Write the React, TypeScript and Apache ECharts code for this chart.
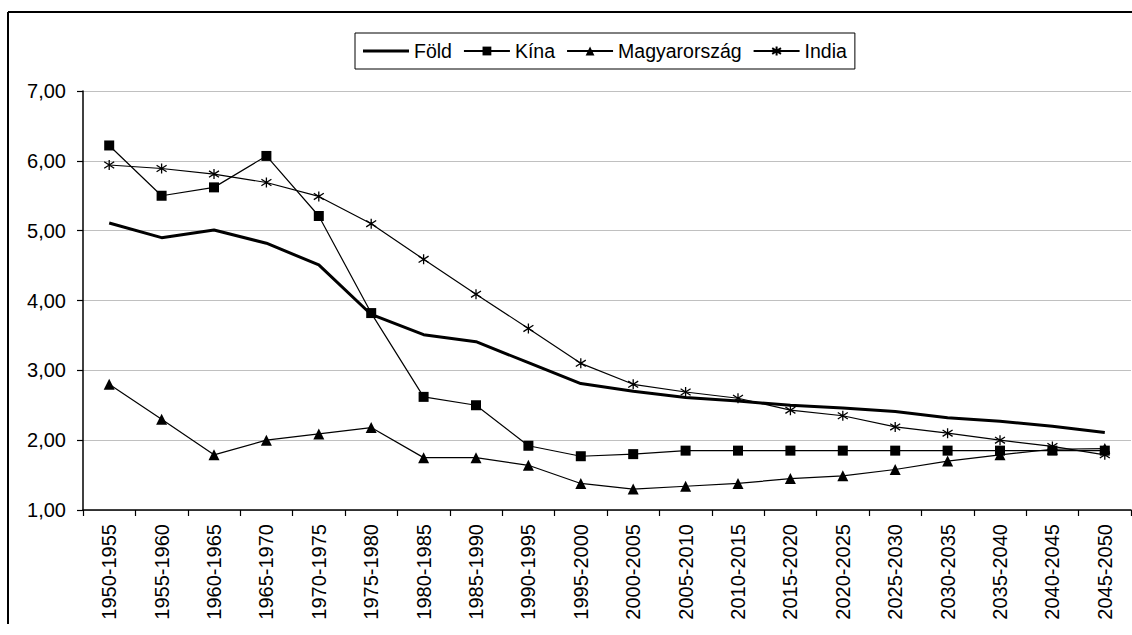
import React, { useEffect, useRef } from "react";
import * as echarts from "echarts";

const categories = [
  "1950-1955", "1955-1960", "1960-1965", "1965-1970", "1970-1975",
  "1975-1980", "1980-1985", "1985-1990", "1990-1995", "1995-2000",
  "2000-2005", "2005-2010", "2010-2015", "2015-2020", "2020-2025",
  "2025-2030", "2030-2035", "2035-2040", "2040-2045", "2045-2050",
];

const fold = [5.11, 4.9, 5.01, 4.82, 4.51, 3.8, 3.51, 3.41, 3.11, 2.81, 2.7, 2.61, 2.56, 2.5, 2.46, 2.41, 2.32, 2.27, 2.2, 2.11];
const kina = [6.22, 5.5, 5.62, 6.07, 5.21, 3.82, 2.62, 2.5, 1.92, 1.77, 1.8, 1.85, 1.85, 1.85, 1.85, 1.85, 1.85, 1.85, 1.85, 1.85];
const magyar = [2.8, 2.3, 1.79, 2.0, 2.09, 2.18, 1.75, 1.75, 1.64, 1.38, 1.3, 1.34, 1.38, 1.45, 1.49, 1.58, 1.7, 1.79, 1.87, 1.88];
const india = [5.94, 5.89, 5.81, 5.69, 5.49, 5.1, 4.59, 4.09, 3.6, 3.1, 2.8, 2.69, 2.6, 2.43, 2.35, 2.19, 2.1, 2.0, 1.91, 1.79];

const seriesNames = ["Föld", "Kína", "Magyarország", "India"];
const yTicks = { min: 1, max: 7, interval: 1 };

const FONT = "Liberation Sans, Arial, sans-serif";
const FS = 20;
const ASTERISK = "path://M5 0 L5 10 M1.2 1.8 L8.8 8.2 M8.8 1.8 L1.2 8.2";

export default function App() {
  const ref = useRef<HTMLDivElement>(null);
  useEffect(() => {
    if (!ref.current) return;
    const chart = echarts.init(ref.current, undefined, { renderer: "svg" });
    const thin = { color: "#000", width: 1.2 };
    chart.setOption({
      animation: false,
      backgroundColor: "#fff",
      textStyle: { fontFamily: FONT, color: "#000" },
      graphic: [
        { type: "line", shape: { x1: 8, y1: 12, x2: 1132, y2: 12 }, style: { stroke: "#000", lineWidth: 2 } },
        { type: "line", shape: { x1: 8, y1: 12, x2: 8, y2: 624 }, style: { stroke: "#000", lineWidth: 2 } },
      ],
      legend: {
        left: 355,
        top: 33,
        padding: [8, 8, 8, 8],
        borderColor: "#000",
        borderWidth: 1,
        itemWidth: 46,
        itemHeight: 11,
        itemGap: 11,
        textStyle: { fontFamily: FONT, fontSize: 19.5, color: "#000" },
        data: [
          { name: seriesNames[0], icon: "path://M0 0 H48 V3 H0 Z", itemStyle: { color: "#000" } },
          seriesNames[1],
          seriesNames[2],
          seriesNames[3],
        ],
      },
      grid: { left: 83, right: 1, top: 91, bottom: 125, containLabel: false },
      xAxis: {
        type: "category",
        data: categories,
        boundaryGap: true,
        axisLine: { lineStyle: { color: "#000", width: 1.5 } },
        axisTick: { show: true, length: 6, alignWithLabel: false, lineStyle: { color: "#000", width: 1.2 } },
        axisLabel: { rotate: 90, margin: 14, interval: 0, fontFamily: FONT, fontSize: FS, color: "#000" },
        splitLine: { show: false },
      },
      yAxis: {
        type: "value",
        min: yTicks.min,
        max: yTicks.max,
        interval: yTicks.interval,
        axisLine: { show: true, lineStyle: { color: "#000", width: 1.5 } },
        axisTick: { show: true, length: 6, lineStyle: { color: "#000", width: 1.2 } },
        axisLabel: {
          margin: 17,
          fontFamily: FONT,
          fontSize: FS,
          color: "#000",
          formatter: (v: number) => v.toFixed(2).replace(".", ","),
        },
        splitLine: { show: true, lineStyle: { color: "#c0c0c0", width: 1.2 } },
      },
      series: [
        {
          name: seriesNames[0], type: "line", data: fold, symbol: "none",
          lineStyle: { color: "#000", width: 3 }, itemStyle: { color: "#000" }, z: 3,
        },
        {
          name: seriesNames[1], type: "line", data: kina, symbol: "rect", symbolSize: 10,
          lineStyle: thin, itemStyle: { color: "#000" },
        },
        {
          name: seriesNames[2], type: "line", data: magyar, symbol: "triangle", symbolSize: 11,
          lineStyle: thin, itemStyle: { color: "#000" },
        },
        {
          name: seriesNames[3], type: "line", data: india, symbol: ASTERISK, symbolSize: 10,
          lineStyle: thin, itemStyle: { color: "#000", borderColor: "#000", borderWidth: 1.3 },
        },
      ],
    });
    return () => chart.dispose();
  }, []);
  return (
    <div
      ref={ref}
      style={{ position: "absolute", left: 0, top: 0, width: 1132, height: 635, background: "#fff" }}
    />
  );
}
